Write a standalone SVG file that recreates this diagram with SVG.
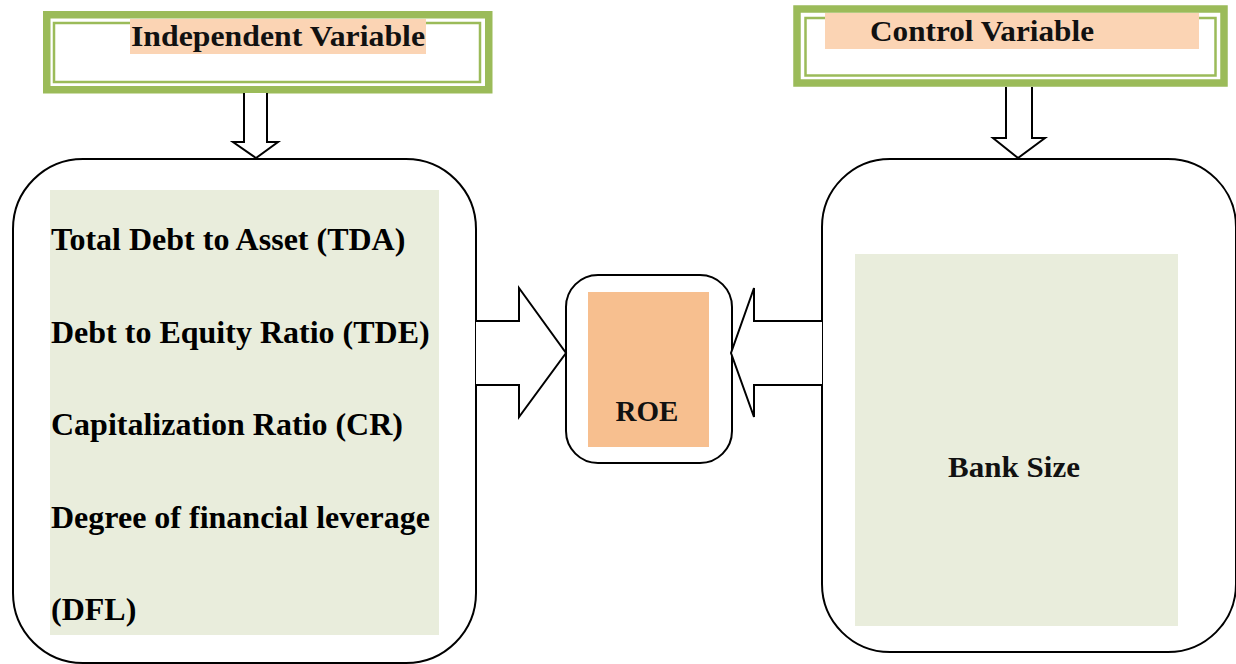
<svg xmlns="http://www.w3.org/2000/svg" width="1236" height="664" viewBox="0 0 1236 664">
<style>
.band{fill:none;stroke:#9BBB59;stroke-width:7.5}
.inner{fill:none;stroke:#9BBB59;stroke-width:2.5}
.hl{fill:#FBD4B4}
.pal{font-family:"Liberation Serif",serif;font-weight:bold;font-size:29px;fill:#111}
.tnr{font-family:"Liberation Serif",serif;font-weight:bold;font-size:32px;fill:#000}
.box{fill:#fff;stroke:#000;stroke-width:2}
.arrow{fill:#fff;stroke:#000;stroke-width:2;stroke-linejoin:miter}
</style>
<rect width="1236" height="664" fill="#fff"/>
<g id="independent-variable">
<rect x="46.75" y="14.75" width="442" height="75" fill="#fff" class="band"/>
<rect x="54" y="23" width="426" height="59" class="inner"/>
<rect x="130" y="19" width="296" height="35" class="hl"/>
<text x="131" y="46" class="pal" textLength="294" lengthAdjust="spacingAndGlyphs">Independent Variable</text>
</g>
<g id="control-variable">
<rect x="797" y="9" width="427" height="74" fill="#fff" class="band"/>
<rect x="805.5" y="18" width="410" height="57.5" class="inner"/>
<rect x="825" y="13" width="374" height="36" class="hl"/>
<text x="870" y="41" class="pal" textLength="224" lengthAdjust="spacingAndGlyphs">Control Variable</text>
</g>
<g id="leverage-measures">
<rect x="13" y="159" width="463" height="504" rx="70" ry="70" class="box"/>
<rect x="50" y="190" width="389" height="445" fill="#E9EDDC"/>
<text x="51" y="250" class="tnr">Total Debt to Asset (TDA)</text>
<text x="51" y="343" class="tnr">Debt to Equity Ratio (TDE)</text>
<text x="51" y="435" class="tnr">Capitalization Ratio (CR)</text>
<text x="51" y="528" class="tnr">Degree of financial leverage</text>
<text x="51" y="620" class="tnr">(DFL)</text>
</g>
<g id="roe">
<rect x="566" y="275" width="166" height="188" rx="32" ry="32" class="box"/>
<rect x="588" y="292" width="121" height="155" fill="#F7BF8F"/>
<text x="647" y="421" class="pal" text-anchor="middle">ROE</text>
</g>
<g id="bank-size">
<rect x="822" y="159" width="414" height="493" rx="68" ry="68" class="box"/>
<rect x="855" y="254" width="323" height="372" fill="#E9EDDC"/>
<text x="948" y="477" class="pal" textLength="132" lengthAdjust="spacingAndGlyphs">Bank Size</text>
</g>
<g id="connectors">
<path class="arrow" d="M244,93 L244,142 L233,142 L256,158 L278,142 L267,142 L267,93"/>
<path class="arrow" d="M1006,87 L1006,138 L993,138 L1018,158 L1045,138 L1032,138 L1032,87"/>
<path class="arrow" d="M476,321 L519,321 L519,288 L566,353 L519,417 L519,385 L476,385"/>
<path class="arrow" d="M822,321 L754,321 L754,288 L731,353 L754,417 L754,385 L822,385"/>
</g>
</svg>
